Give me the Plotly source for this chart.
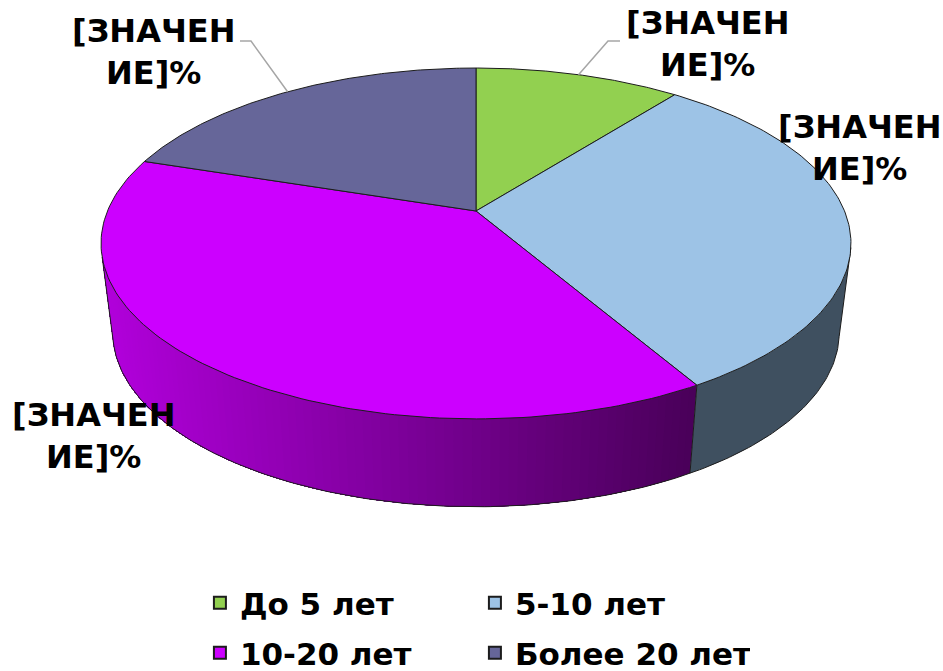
import numpy as np
import plotly.graph_objects as go

categories = ["До 5 лет", "5-10 лет", "10-20 лет", "Более 20 лет"]
values = [10.6, 31, 38.4, 20]
top_colors = ["#92D050", "#9DC3E6", "#CC00FF", "#666699"]
label_text = "[ЗНАЧЕН<br>ИЕ]%"

FONT = "DejaVu Sans"
K = 0.185


def top_pt(theta):
    u, v = np.sin(theta), np.cos(theta)
    w = 1 + K * v
    return 476 + 368.5 * u / w, (-130.4 * v + 211) / w


def bot_pt(theta):
    u, v = np.sin(theta), np.cos(theta)
    w = 1 + K * v
    return 476 + 357 * u / w, (-113 * v + 300) / w


fracs = np.array(values) / sum(values) * 2 * np.pi
edges = np.concatenate([[0], np.cumsum(fracs)])
fig = go.Figure()
EDGE = "#1c1c1c"


def poly(x, y, fill, line=None, width=0):
    fig.add_trace(go.Scatter(
        x=x, y=y, mode="lines", fill="toself", fillcolor=fill,
        line=dict(color=line or fill, width=width),
        hoverinfo="skip", showlegend=False))


def line(x, y, color=EDGE, width=1):
    fig.add_trace(go.Scatter(x=x, y=y, mode="lines", line=dict(color=color, width=width),
                             hoverinfo="skip", showlegend=False))


# side wall: each band reaches to the end of its slice and is overpainted by the next,
# so no seams show between bands
wall_start = np.radians(102)
wall_end = np.radians(255)
split = edges[2]


def band(a, b):
    ta = np.linspace(a, b, max(3, int((b - a) * 60)))
    tx, ty = top_pt(ta)
    bx, by = bot_pt(ta)
    return np.r_[tx, bx[::-1]], np.r_[ty, by[::-1]]


x, y = band(wall_start, split)
poly(x, y, "#3F5060")

grid = np.linspace(split, wall_end, 90)
for a in grid[:-1]:
    x, y = band(a, wall_end)
    mx = bot_pt(a)[0]
    t = np.clip((mx - 113) / 577, 0, 1)
    col = "rgb(%d,%d,%d)" % (178 + (74 - 178) * t, 0, 220 + (90 - 220) * t)
    poly(x, y, col)

# wall outlines
ta = np.linspace(wall_start, wall_end, 200)
bx, by = bot_pt(ta)
line(bx, by)
for th in [wall_start, wall_end, split]:
    x0, y0 = top_pt(th)
    x1, y1 = bot_pt(th)
    line([x0, x1], [y0, y1])

# top slices
cx, cy = 476, 211
for i in range(4):
    ta = np.linspace(edges[i], edges[i + 1], 120)
    tx, ty = top_pt(ta)
    poly(np.r_[cx, tx, cx], np.r_[cy, ty, cy], top_colors[i], line=EDGE, width=1)

# leader lines, ending on the rim at the slice's mid angle
mids = (edges[:-1] + edges[1:]) / 2
mx0, my0 = top_pt(mids[0])
line([620, 608, mx0], [41, 41, my0], color="#A6A6A6", width=1.5)
mx3, my3 = top_pt(mids[3])
line([240, 251, mx3], [41, 41, my3], color="#A6A6A6", width=1.5)

# labels
for x, y in [(707, 44), (859, 148), (93, 436), (153, 52)]:
    fig.add_annotation(x=x, y=y, text=label_text, showarrow=False, xref="x", yref="y",
                       font=dict(family=FONT, size=32, color="#000000", weight="bold"),
                       align="center")

# legend entries: one legend per row
legend_of = ["legend", "legend", "legend2", "legend2"]
for name, col, lg in zip(categories, top_colors, legend_of):
    fig.add_trace(go.Scatter(x=[None], y=[None], mode="markers", name=name, legend=lg,
                             marker=dict(symbol="square", size=16, color=col,
                                         line=dict(color="#1c1c1c", width=2.5))))

legend_style = dict(orientation="h", xanchor="left", yanchor="middle", x=0.212,
                    xref="container", yref="container",
                    entrywidth=230, entrywidthmode="pixels", itemsizing="constant",
                    itemwidth=30,
                    font=dict(family=FONT, size=31, color="#000000", weight="bold"),
                    bgcolor="rgba(0,0,0,0)")
fig.update_layout(
    width=943, height=671, autosize=False,
    margin=dict(l=0, r=0, t=0, b=0, autoexpand=False),
    paper_bgcolor="white", plot_bgcolor="white",
    xaxis=dict(range=[0, 943], visible=False, fixedrange=True),
    yaxis=dict(range=[671, 0], visible=False, fixedrange=True),
    legend=dict(y=1 - 603 / 671, **legend_style),
    legend2=dict(y=1 - 653 / 671, **legend_style),
    font=dict(family=FONT, weight="bold"),
)
fig.write_html("out.html", config={"displayModeBar": False},
               post_script="document.body.style.margin='0';")
